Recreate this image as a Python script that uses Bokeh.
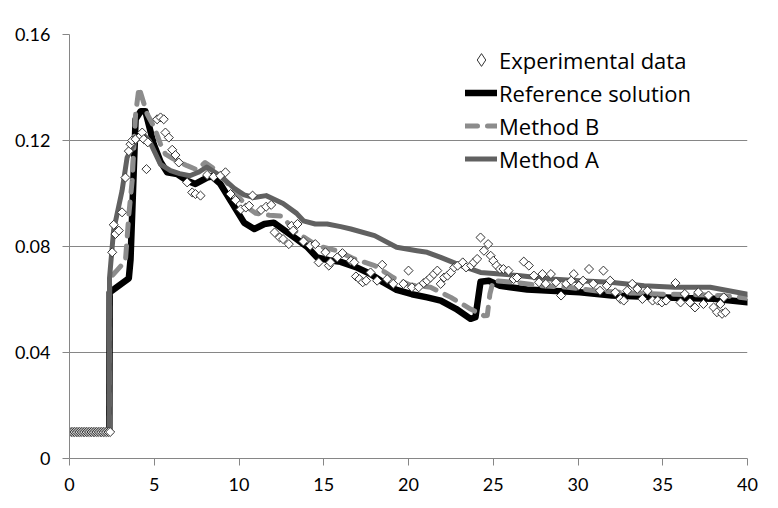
import numpy as np
from bokeh.plotting import figure
from bokeh.models import Range1d, FixedTicker, Legend, LegendItem
from bokeh.embed import file_html
from bokeh.resources import INLINE

# ---------------- data ----------------
exp_x = [0.0, 0.1, 0.2, 0.3, 0.4, 0.5, 0.6, 0.7, 0.8, 0.9, 1.0, 1.1, 1.2, 1.3, 1.4,
         1.5, 1.6, 1.7, 1.8, 1.9, 2.0, 2.1, 2.2, 2.3, 2.4,
         2.52, 2.61, 2.71, 2.91, 3.1, 3.3, 3.5, 3.6, 3.7, 3.9, 4.2, 4.29, 4.38, 4.54, 4.62,
         5.17, 5.37, 5.56, 5.66, 5.86, 6.06, 6.25, 6.45, 6.94, 7.24, 7.43, 7.73,
         8.12, 8.5, 8.9, 9.2, 9.5, 9.8, 10.1, 10.4, 10.6, 10.8, 11.3, 11.6, 11.9,
         12.1, 12.4, 12.6, 12.94, 13.1, 13.2, 13.45, 13.8, 14.2, 14.5, 14.7, 15.1, 15.3, 15.4,
         15.8, 16.1, 16.6, 16.8, 16.9, 17.1, 17.3, 17.5, 17.76, 18.15, 18.45, 18.74, 19.1,
         19.7, 20.0, 20.2, 20.6, 20.9, 21.1, 21.3, 21.5, 21.7, 21.9, 22.1, 22.3, 22.5, 22.7,
         22.9, 23.2, 23.4, 23.7, 23.85, 24.05, 24.25, 24.45, 24.7, 24.85, 25.0, 25.2, 25.4,
         25.6, 25.9, 26.2, 26.4, 26.8, 27.1, 27.4, 27.7, 27.9, 28.1, 28.4, 28.7, 29.0, 29.3,
         29.6, 29.75, 30.05, 30.3, 30.65, 30.9, 31.3, 31.5, 31.7, 31.9, 32.2, 32.5, 32.7,
         32.9, 33.2, 33.5, 33.8, 34.1, 34.4, 34.7, 34.95, 35.2, 35.75, 36.05, 36.3, 36.6,
         36.9, 37.1, 37.4, 37.7, 38.0, 38.2, 38.4, 38.5, 38.6, 38.7]
exp_y = [0.01, 0.01, 0.01, 0.01, 0.01, 0.01, 0.01, 0.01, 0.01, 0.01, 0.01, 0.01, 0.01, 0.01, 0.01,
         0.01, 0.01, 0.01, 0.01, 0.01, 0.01, 0.01, 0.01, 0.01, 0.01,
         0.0778, 0.0882, 0.0847, 0.086, 0.0929, 0.106, 0.116, 0.1186, 0.120, 0.1205, 0.1218, 0.123, 0.1205, 0.1092, 0.1193,
         0.128, 0.1287, 0.128, 0.123, 0.1211, 0.1165, 0.1145, 0.1117, 0.1042, 0.1004, 0.0998, 0.0992,
         0.107, 0.1063, 0.1067, 0.108, 0.0998, 0.0975, 0.094, 0.0947, 0.0954, 0.0992, 0.0938, 0.0950, 0.0957,
         0.0853, 0.0834, 0.0828, 0.0809, 0.0878, 0.086, 0.0885, 0.0819, 0.0803, 0.0809, 0.074, 0.0778, 0.0728, 0.074,
         0.0759, 0.0775, 0.0746, 0.074, 0.0687, 0.0677, 0.0665, 0.0671, 0.0702, 0.0671, 0.0731, 0.0677, 0.0659,
         0.0659, 0.0709, 0.0646, 0.0646, 0.0662, 0.0671, 0.0683, 0.0696, 0.0709, 0.0659, 0.0683, 0.069, 0.0702, 0.0721,
         0.0728, 0.074, 0.0721, 0.0728, 0.074, 0.0753, 0.0834, 0.0784, 0.0809, 0.0765, 0.0746, 0.0728, 0.0715,
         0.0715, 0.0709, 0.0677, 0.0683, 0.0743, 0.0728, 0.069, 0.0665, 0.0696, 0.0659, 0.0696, 0.0665, 0.0615, 0.0659,
         0.0671, 0.0696, 0.0652, 0.0671, 0.0715, 0.0659, 0.0633, 0.0709, 0.0652, 0.0671, 0.0627, 0.0602, 0.0596,
         0.0633, 0.0659, 0.064, 0.0602, 0.0633, 0.0596, 0.0596, 0.0589, 0.0596, 0.0662, 0.0589, 0.0621, 0.0589,
         0.057, 0.0627, 0.0583, 0.0615, 0.057, 0.0552, 0.0583, 0.0546, 0.0608, 0.0552]

ref_x = [0.0, 2.35, 2.37, 3.5, 3.6, 3.9, 4.2, 4.48, 4.97, 5.37, 5.76, 6.35, 6.94, 7.43, 8.12, 8.4,
         8.9, 9.5, 10.3, 10.9, 11.5, 12.05, 12.85, 13.4, 14.0, 14.6, 15.3, 16.0, 16.9, 17.76,
         18.5, 19.3, 20.2, 21.1, 21.9, 22.8, 23.66, 23.95, 24.1, 24.25, 24.74, 25.4, 26.0,
         27.0, 28.4, 30.1, 32.0, 34.0, 36.0, 38.0, 40.0]
ref_y = [0.01, 0.01, 0.0627, 0.068, 0.075, 0.128, 0.131, 0.131, 0.1186, 0.112, 0.108, 0.1073, 0.1048, 0.1036, 0.106, 0.1065,
         0.1036, 0.0973, 0.089, 0.0866, 0.0885, 0.089, 0.0853, 0.0828, 0.080, 0.0759, 0.0748, 0.0742, 0.0722, 0.0696,
         0.0665, 0.0636, 0.062, 0.0608, 0.0596, 0.0565, 0.0527, 0.0533, 0.060, 0.0667, 0.0671, 0.0652, 0.0646,
         0.0638, 0.0633, 0.0627, 0.0615, 0.061, 0.0606, 0.0603, 0.059]

b_x = [0.0, 2.35, 2.37, 2.8, 3.3, 3.5, 3.7, 3.9, 4.1, 4.58, 5.0, 5.37, 5.66, 6.15, 6.94, 7.5, 8.0,
       8.7, 9.7, 10.5, 11.0, 11.8, 12.5, 13.4, 14.6, 15.8, 16.8, 18.0, 19.1, 20.1, 21.3, 22.5,
       23.66, 24.45, 24.65, 24.8, 25.0, 26.2, 27.8, 29.4, 31.0, 33.0, 35.0, 37.0, 38.5, 40.0]
b_y = [0.01, 0.01, 0.068, 0.071, 0.0746, 0.092, 0.105, 0.130, 0.140, 0.130, 0.125, 0.1186, 0.1149, 0.113, 0.1105, 0.109, 0.1117,
       0.1086, 0.101, 0.0947, 0.0925, 0.0918, 0.0915, 0.0853, 0.0803, 0.0784, 0.0753, 0.0728, 0.0683, 0.0655, 0.0646, 0.0608,
       0.0564, 0.0539, 0.054, 0.062, 0.0671, 0.0665, 0.0652, 0.0646, 0.0633, 0.0625, 0.062, 0.0618, 0.0615, 0.0605]

a_x = [0.0, 2.35, 2.36, 2.6, 3.1, 3.4, 3.8, 4.3, 4.7, 5.37, 5.96, 6.5, 7.1, 7.6, 8.1, 8.9, 9.7,
       10.3, 10.9, 11.6, 12.6, 13.4, 13.8, 14.5, 15.2, 16.0, 16.6, 18.0, 19.3, 20.5, 21.1, 21.9,
       23.1, 24.25, 25.4, 26.6, 28.4, 30.1, 31.9, 33.9, 35.7, 37.8, 40.0]
a_y = [0.01, 0.01, 0.068, 0.086, 0.101, 0.1136, 0.119, 0.1225, 0.120, 0.111, 0.1086, 0.1075, 0.1067, 0.108, 0.110, 0.1067, 0.102,
       0.0995, 0.0985, 0.0992, 0.0962, 0.0925, 0.0897, 0.0885, 0.0885, 0.0875, 0.0866, 0.0841, 0.0797, 0.0784, 0.0778, 0.0759,
       0.0728, 0.0702, 0.0696, 0.069, 0.0677, 0.0671, 0.0665, 0.0652, 0.0646, 0.0646, 0.062]

x_ticks = [0, 5, 10, 15, 20, 25, 30, 35, 40]
y_ticks = [0, 0.04, 0.08, 0.12, 0.16]
y_tick_labels = ["0", "0.04", "0.08", "0.12", "0.16"]

labels = ["Experimental data", "Reference solution", "Method B", "Method A"]

# ---------------- figure ----------------
TICK_FONT = "Lato"
LEGEND_FONT = "Open Sans"
GRID = "#868686"

p = figure(width=776, height=506, output_backend="svg", toolbar_location=None,
           x_range=Range1d(0, 40), y_range=Range1d(0, 0.16),
           min_border_left=69, min_border_right=29, min_border_top=34, min_border_bottom=48)
p.outline_line_color = None
p.background_fill_color = "white"
p.border_fill_color = "white"

p.xgrid.visible = False
p.ygrid.ticker = FixedTicker(ticks=y_ticks)
p.ygrid.grid_line_color = GRID
p.ygrid.grid_line_width = 1

for ax in (p.xaxis[0], p.yaxis[0]):
    ax.axis_line_color = GRID
    ax.major_tick_line_color = GRID
    ax.minor_tick_line_color = None
    ax.major_tick_in = 0
    ax.major_tick_out = 7
    ax.major_label_text_font = TICK_FONT
    ax.major_label_text_font_size = "18px"
    ax.major_label_text_color = "#000000"

p.xaxis[0].ticker = FixedTicker(ticks=x_ticks)
p.xaxis[0].major_label_standoff = 12
p.yaxis[0].ticker = FixedTicker(ticks=y_ticks)
p.yaxis[0].major_label_overrides = {t: s for t, s in zip(y_ticks, y_tick_labels)}
p.yaxis[0].major_label_standoff = 12

r_ref = p.line(ref_x, ref_y, line_color="#000000", line_width=6.5, line_join="round", line_cap="round")
r_b = p.line(b_x, b_y, line_color="#8c8c8c", line_width=5, line_dash="12 10",
             line_join="round", line_cap="round")
r_a = p.line(a_x, a_y, line_color="#616161", line_width=5, line_join="round", line_cap="round")

# legend key: a small diamond on the first data point (hidden under that point's marker)
r_exp_key = p.scatter(exp_x[:1], exp_y[:1], marker="diamond", size=6,
                      line_color="#333333", line_width=1, fill_color="white")
r_exp = p.scatter(exp_x, exp_y, marker="square", angle=np.pi / 4, size=6.4,
                  line_color="#333333", line_width=1, fill_color="white")

legend = Legend(items=[LegendItem(label=labels[0], renderers=[r_exp_key]),
                       LegendItem(label=labels[1], renderers=[r_ref]),
                       LegendItem(label=labels[2], renderers=[r_b]),
                       LegendItem(label=labels[3], renderers=[r_a])],
                location=(396, 283), orientation="vertical",
                glyph_width=32, glyph_height=33, label_height=33, spacing=0,
                padding=0, margin=0, label_standoff=2,
                background_fill_alpha=0, border_line_alpha=0,
                label_text_font=LEGEND_FONT, label_text_font_size="22px", label_text_color="#000000")
p.add_layout(legend)

open("out.html", "w").write(file_html(p, INLINE))
